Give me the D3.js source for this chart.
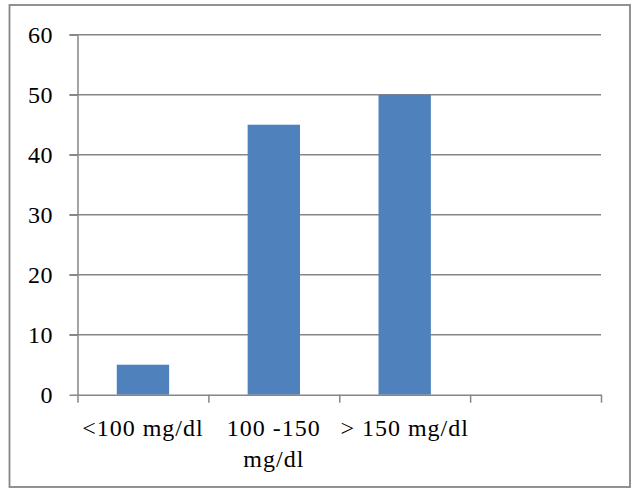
<!DOCTYPE html>
<html>
<head>
<meta charset="utf-8">
<script src="https://cdn.jsdelivr.net/npm/d3@7"></script>
<style>
  html, body { margin: 0; padding: 0; background: #fff; }
  svg { display: block; }
</style>
</head>
<body>
<svg id="chart" width="632" height="489"></svg>
<script>
// Data
const categories = ["<100 mg/dl", "100 -150 mg/dl", "> 150 mg/dl", ""];
const labelLines = [["<100 mg/dl"], ["100 -150", "mg/dl"], ["> 150 mg/dl"], []];
const values = [5, 45, 50, null];
const yTicks = [0, 10, 20, 30, 40, 50, 60];

(function () {
const svg = d3.select("#chart");
const plotLeft = 77.5, plotRight = 601, plotTop = 34.7, plotBottom = 394.7;
const gridColor = "#868686";
const barColor = "#4F81BD";
const fontSize = 24;
const fontFam = '"Liberation Serif"';

// outer border
svg.append("rect")
  .attr("x", 9.5).attr("y", 5)
  .attr("width", 620.5).attr("height", 482)
  .attr("fill", "#fff")
  .attr("stroke", gridColor).attr("stroke-width", 1.8);

const x = d3.scaleBand().domain(categories).range([plotLeft, plotRight])
  .paddingInner(0.6).paddingOuter(0.3);
const xEdge = d3.scaleLinear().domain([0, categories.length]).range([plotLeft, plotRight]);
const y = d3.scaleLinear().domain([0, 60]).range([plotBottom, plotTop]);

// gridlines
svg.append("g").selectAll("line").data(yTicks.filter(d => d > 0)).join("line")
  .attr("x1", plotLeft - 8).attr("x2", plotRight)
  .attr("y1", d => y(d)).attr("y2", d => y(d))
  .attr("stroke", gridColor).attr("stroke-width", 1.5);

// bars
svg.append("g").selectAll("rect")
  .data(categories.map((c, i) => ({c, v: values[i]})).filter(d => d.v != null))
  .join("rect")
  .attr("x", d => x(d.c)).attr("width", x.bandwidth())
  .attr("y", d => y(d.v)).attr("height", d => y(0) - y(d.v))
  .attr("fill", barColor);

// y axis
const yAxis = svg.append("g").attr("transform", `translate(${plotLeft},0)`)
  .call(d3.axisLeft(y).tickValues(yTicks).tickSize(8).tickSizeOuter(0).tickFormat(""));
yAxis.select(".domain").attr("stroke", gridColor).attr("stroke-width", 1.5);
yAxis.selectAll(".tick line").attr("stroke", gridColor).attr("stroke-width", 1.5);

// y labels
svg.append("g").selectAll("text").data(yTicks).join("text")
  .attr("x", 53).attr("y", d => y(d) + 8.5)
  .attr("text-anchor", "end")
  .style("font-size", fontSize + "px")
  .style("font-family", fontFam)
  .style("letter-spacing", "0.5px")
  .attr("fill", "#000")
  .text(d => d);

// x axis
const xAxis = svg.append("g").attr("transform", `translate(0,${plotBottom})`)
  .call(d3.axisBottom(xEdge).tickValues(d3.range(categories.length + 1)).tickSize(8).tickSizeOuter(0).tickFormat(""));
xAxis.select(".domain").attr("stroke", gridColor).attr("stroke-width", 1.5);
xAxis.selectAll(".tick line").attr("stroke", gridColor).attr("stroke-width", 1.5);

// x labels
const lbl = svg.append("g");
categories.forEach((c, i) => {
  const cx = x(c) + x.bandwidth() / 2;
  labelLines[i].forEach((line, j) => {
    lbl.append("text")
      .attr("x", cx).attr("y", plotBottom + 41 + j * 31)
      .attr("text-anchor", "middle")
      .style("font-size", fontSize + "px")
      .style("font-family", fontFam)
      .style("letter-spacing", "1px")
      .attr("fill", "#000")
      .text(line);
  });
});
})();
</script>
</body>
</html>
